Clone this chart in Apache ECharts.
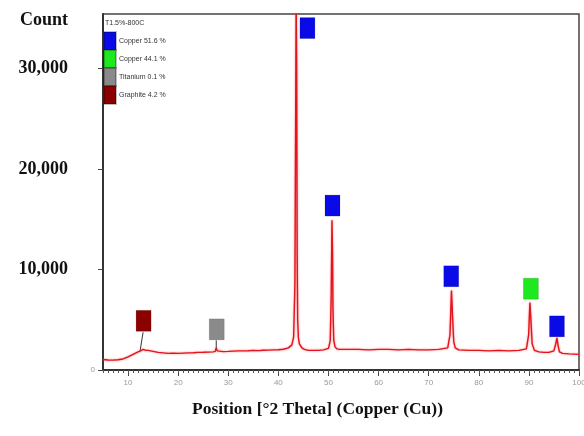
<!DOCTYPE html>
<html>
<head>
<meta charset="utf-8">
<script src="https://cdn.jsdelivr.net/npm/echarts@6/dist/echarts.min.js"></script>
<style>html,body{margin:0;padding:0;background:#fff}#c{width:584px;height:436px}</style>
</head>
<body>
<div id="c"></div>
<script>
// ---- data ----
const twoTheta = [5.0,6.0,7.0,8.0,9.0,10.0,11.0,12.0,12.5,13.0,13.5,14.0,15.0,16.0,17.0,18.0,19.0,20.0,21.0,22.0,23.0,24.0,25.0,26.0,27.0,27.4,27.6,27.8,28.0,29.0,30.0,31.0,32.0,33.0,34.0,35.0,36.0,37.0,38.0,39.0,40.0,41.0,42.0,42.7,43.05,43.3,43.45,43.55,43.65,43.75,43.85,44.0,44.2,44.7,45.2,46.0,47.0,48.0,49.0,50.0,50.35,50.55,50.7,50.8,50.9,51.05,51.3,51.7,52.2,54.0,56.0,58.0,60.0,62.0,64.0,66.0,68.0,70.0,72.0,73.8,74.25,74.55,74.75,75.0,75.3,76.0,78.0,80.0,82.0,84.0,86.0,88.0,89.5,89.95,90.2,90.4,90.65,91.1,92.0,93.0,94.0,95.0,95.4,95.6,95.8,96.1,96.7,98.0,100.0];
const counts   = [1050,1000,980,1020,1100,1300,1550,1800,1900,2050,1950,1950,1850,1750,1700,1650,1680,1650,1680,1700,1720,1750,1760,1780,1800,1850,2200,1900,1850,1830,1850,1880,1900,1900,1920,1950,1930,1970,1980,2000,2020,2060,2200,2500,3300,8500,25000,37000,30000,12000,5000,3200,2600,2200,2050,1950,1950,1950,2000,2150,2900,7500,14900,12000,6000,3000,2300,2100,2050,2050,2050,2000,2050,2050,2000,2050,2000,2000,2050,2200,3500,7900,5500,2800,2200,2000,1950,1950,1900,1950,1900,1950,2100,3500,6700,5000,2600,1950,1800,1750,1750,1900,2700,3200,2500,1800,1650,1600,1550];

const phaseNames  = ['Copper 51.6 %','Copper 44.1 %','Titanium 0.1 %','Graphite 4.2 %'];
const phaseColors = ['#0a0ae8','#1ee81e','#8a8a8a','#8b0000'];
const copper1Markers  = [[45.8,34000],[50.8,16350],[74.5,9320],[95.6,4340]];
const copper2Markers  = [[90.4,8080]];
const titaniumMarkers = [[27.7,4040]];
const graphiteMarkers = [[13.1,4890]];
const graphiteLeader  = [[13.0,3750],[12.4,1900]];
const titaniumLeader  = [[27.6,2950],[27.6,2150]];

const sampleLabel = 'T1.5%-800C';
const yTitle = 'Count';
const xTitle = 'Position [°2 Theta] (Copper (Cu))';
const yTickLabels = ['0','10,000','20,000','30,000'];
const xTickValues = [10,20,30,40,50,60,70,80,90,100];
const xMin = 5, xMax = 100, yMin = 0, yMax = 35400;

// ---- chart ----
const chart = echarts.init(document.getElementById('c'), null, {renderer:'canvas'});
const serif = '"Liberation Serif","Times New Roman",serif';
const sans = '"Liberation Sans",Arial,sans-serif';
const lineData = twoTheta.map((x,i)=>[x,counts[i]]);
const markerSets = [copper1Markers, copper2Markers, titaniumMarkers, graphiteMarkers];

const series = [
  {type:'line', name:'pattern', data:lineData, showSymbol:false, symbol:'none', clip:true,
   lineStyle:{color:'#e3141e', width:1.4, shadowColor:'rgba(255,90,90,0.8)', shadowBlur:2}, z:3, silent:true},
  {type:'line', name:'gl', data:graphiteLeader, symbol:'none', lineStyle:{color:'#333', width:1}, z:2, silent:true},
  {type:'line', name:'tl', data:titaniumLeader, symbol:'none', lineStyle:{color:'#333', width:1}, z:2, silent:true}
];
phaseNames.forEach((n,i)=>{
  series.push({type:'scatter', name:n, data:markerSets[i], symbol:'rect', symbolSize:[15,21],
    itemStyle:{color:phaseColors[i], opacity:1, borderColor:'rgba(0,0,0,0.25)', borderWidth:0.5}, z:5, silent:true});
});

chart.setOption({
  animation:false,
  backgroundColor:'#fff',
  title:{text:sampleLabel, left:105, top:20, padding:0, textStyle:{fontSize:7, fontWeight:'normal', color:'#333', fontFamily:sans}},
  legend:{data:phaseNames, orient:'vertical', left:103, top:31, padding:0, itemWidth:12, itemHeight:18, itemGap:-2,
    icon:'rect', selectedMode:false, textStyle:{fontSize:7, color:'#333', fontFamily:sans, padding:[0,0,0,-2]}},
  grid:{left:103, right:5, top:14, bottom:66, outerBoundsMode:'none', containLabel:false,
        show:true, borderColor:'#444', borderWidth:1.5, backgroundColor:'#fff'},
  xAxis:[
    {type:'value', min:xMin, max:xMax, interval:5,
     axisLine:{lineStyle:{color:'#333', width:2}},
     axisTick:{show:true, length:6, customValues:xTickValues, lineStyle:{color:'#444'}},
     splitLine:{show:false},
     axisLabel:{fontSize:8, color:'#999', margin:9, customValues:xTickValues, fontFamily:sans}},
    {type:'value', min:xMin, max:xMax, interval:1, position:'bottom',
     axisLine:{show:false}, axisLabel:{show:false}, splitLine:{show:false},
     axisTick:{show:true, length:3, lineStyle:{color:'#555'}}}
  ],
  yAxis:{type:'value', min:yMin, max:yMax, interval:10000,
    axisLine:{show:true, lineStyle:{color:'#333', width:2}},
    axisTick:{show:true, length:5, lineStyle:{color:'#444'}},
    splitLine:{show:false},
    axisLabel:{showMaxLabel:false, margin:8,
      formatter:function(v){ const s = yTickLabels[Math.round(v/10000)]; if(s===undefined) return ''; return v===0 ? '{s|'+s+'}' : '{b|'+s+'}'; },
      rich:{s:{fontSize:8, color:'#999', fontFamily:sans},
            b:{fontSize:18, fontWeight:'bold', color:'#111', fontFamily:serif, padding:[0,27,0,0]}}}},
  graphic:[
    {type:'text', left:20, top:11, style:{text:yTitle, font:'bold 18px '+serif, fill:'#111'}},
    {type:'text', left:192, top:400, style:{text:xTitle, font:'bold 17.5px '+serif, fill:'#111'}}
  ],
  series:series
});
</script>
</body>
</html>
